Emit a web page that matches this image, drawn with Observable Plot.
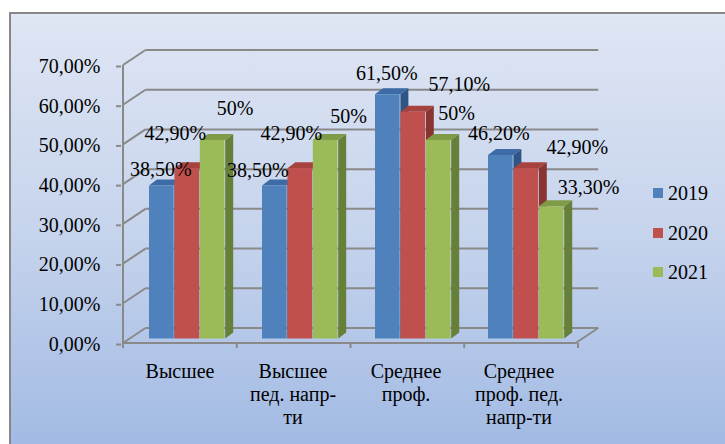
<!DOCTYPE html>
<html><head><meta charset="utf-8">
<script src="https://cdn.jsdelivr.net/npm/d3@7"></script>
<script src="https://cdn.jsdelivr.net/npm/@observablehq/plot@0.6"></script>
<style>
html,body{margin:0;padding:0;background:#fff;}
#wrap{position:relative;width:725px;height:444px;overflow:hidden;}
#bg{position:absolute;left:9px;top:12px;width:730px;height:450px;border:2px solid #878787;background:linear-gradient(to bottom,#dfe6f4 0%,#c5d3ec 50%,#9fb8e3 100%);}
#chart{position:absolute;left:0;top:0;}
#legend{position:absolute;left:653px;top:0;}
.item{position:absolute;left:0;display:flex;align-items:center;height:20px;font-size:20px;line-height:20px;white-space:nowrap;color:#000;}
.sw{width:10px;height:10px;margin-right:5px;}
</style></head>
<body><div id="wrap" style="font-family:'Liberation Serif', serif"><div id="bg"></div><div id="chart"></div><div id="legend"></div></div>
<script>
// ---- data ----
const categories = ["Высшее", "Высшее\nпед. напр-\nти", "Среднее\nпроф.", "Среднее\nпроф. пед.\nнапр-ти"];
const years = ["2019", "2020", "2021"];
const v2019 = [38.5, 38.5, 61.5, 46.2];
const v2020 = [42.9, 42.9, 57.1, 42.9];
const v2021 = [50, 50, 50, 33.3];
const yTicks = [0, 10, 20, 30, 40, 50, 60, 70];
const series = [v2019, v2020, v2021];

// ---- style / layout ----
const front = ["#4f81bd", "#c0504d", "#9bbb59"];
const topC = ["#3d6ba6", "#a8423f", "#7f9b48"];
const sideC = ["#2f5587", "#8a3431", "#66803a"];
const gridC = "#898989";
const FONT = "Liberation Serif";
const X0 = 121, X1 = 576, YB = 343, YT = 65;
const bw = (X1 - X0) / 4;
const barOff = 26, barW = 25.4, planeDy = -4.5;
const sdx = 8, sdy = -6;       // 3D side depth
const bdx = 22.5, bdy = -15;   // back wall offset
// label nudges (px) relative to bar top centre, per year then category
const nudges = [
  [[-1, -17], [-17, -16], [-1, -21], [-2, -22]],
  [[-12, -35], [-9, -35], [46, -28], [51, -21]],
  [[22.5, -32], [23, -24], [18, -27], [37, -19]]
];

const fmtTick = d => d.toFixed(2).replace(".", ",") + "%";
const fmtVal = v => Number.isInteger(v) ? v + "%" : v.toFixed(2).replace(".", ",") + "%";

function gridMark(index, scales) {
  const x = scales.x, y = scales.y;
  const g = d3.create("svg:g").attr("stroke", gridC).attr("stroke-width", 2).attr("fill", "none");
  const xl = x(categories[0]);
  const xr = x(categories[categories.length - 1]) + bw;
  const y0 = y(0);
  for (const t of yTicks) {
    const yy = y(t);
    g.append("line").attr("x1", xl + bdx).attr("x2", xr + bdx).attr("y1", yy + bdy).attr("y2", yy + bdy);
    g.append("line").attr("x1", xl).attr("x2", xl + bdx).attr("y1", yy).attr("y2", yy + bdy);
  }
  g.append("line").attr("x1", xl).attr("x2", xr).attr("y1", y0).attr("y2", y0);
  g.append("line").attr("x1", xr).attr("x2", xr + bdx).attr("y1", y0).attr("y2", y0 + bdy);
  g.append("line").attr("x1", xl).attr("x2", xl).attr("y1", y(yTicks[yTicks.length - 1])).attr("y2", y0 + 1);
  for (let k = 0; k <= categories.length; k++) {
    const xx = xl + k * bw;
    g.append("line").attr("x1", xx).attr("x2", xx).attr("y1", y0).attr("y2", y0 + 5);
  }
  return g.node();
}

function facesMark(vals, j) {
  return (index, scales) => {
    const g = d3.create("svg:g");
    vals.forEach((v, i) => {
      const xl = scales.x(categories[i]) + barOff + j * barW;
      const xr = xl + barW;
      const yt = scales.y(v) + planeDy;
      const yb = scales.y(0) + planeDy;
      g.append("polygon").attr("points", [[xr, yt], [xr + sdx, yt + sdy], [xr + sdx, yb + sdy], [xr, yb]].join(" ")).attr("fill", sideC[j]);
      g.append("polygon").attr("points", [[xl, yt], [xr, yt], [xr + sdx, yt + sdy], [xl + sdx, yt + sdy]].join(" ")).attr("fill", topC[j]);
    });
    return g.node();
  };
}

const marks = [gridMark];
series.forEach((vals, j) => {
  const data = vals.map((v, i) => ({cat: categories[i], v}));
  marks.push(facesMark(vals, j));
  marks.push(Plot.barY(data, {
    x: "cat", y: "v", fill: front[j],
    insetLeft: barOff + j * barW,
    insetRight: bw - barOff - (j + 1) * barW,
    dy: planeDy
  }));
});

marks.push(Plot.axisY(yTicks, {
  anchor: "left", tickSize: 5, tickPadding: 16, tickFormat: fmtTick, label: null,
  stroke: gridC, strokeWidth: 2, fontSize: 20, fontFamily: FONT, dy: 1
}));

marks.push(Plot.text(categories, {
  x: d => d, y: () => 0, text: d => d, lineAnchor: "top", dy: 18.5,
  fontSize: 20, fontFamily: FONT, lineHeight: 1.15, fill: "#000"
}));

series.forEach((vals, j) => {
  const center = barOff + (j + 0.5) * barW - bw / 2;
  vals.forEach((v, i) => {
    marks.push(Plot.text([{cat: categories[i], v}], {
      x: "cat", y: "v", text: d => fmtVal(d.v),
      dx: center + nudges[j][i][0], dy: planeDy + nudges[j][i][1],
      fontSize: 20, fontFamily: FONT, fill: "#000"
    }));
  });
});

const chart = Plot.plot({
  width: 725, height: 444,
  marginLeft: X0, marginRight: 725 - X1, marginTop: YT, marginBottom: 444 - YB,
  style: {background: "transparent", fontSize: "20px", color: "#000", overflow: "visible"},
  x: {type: "band", domain: categories, padding: 0, axis: null},
  y: {domain: [0, 70], axis: null, label: null},
  marks
});
chart.style.fontFamily = "'Liberation Serif', serif";
document.getElementById("chart").appendChild(chart);

// legend
const lg = document.getElementById("legend");
years.forEach((yr, j) => {
  const it = document.createElement("div");
  it.className = "item";
  it.style.top = (183 + j * 39.5) + "px";
  it.style.fontFamily = "'Liberation Serif', serif";
  it.innerHTML = `<span class="sw" style="background:${front[j]}"></span><span>${yr}</span>`;
  lg.appendChild(it);
});
</script>
</body></html>
